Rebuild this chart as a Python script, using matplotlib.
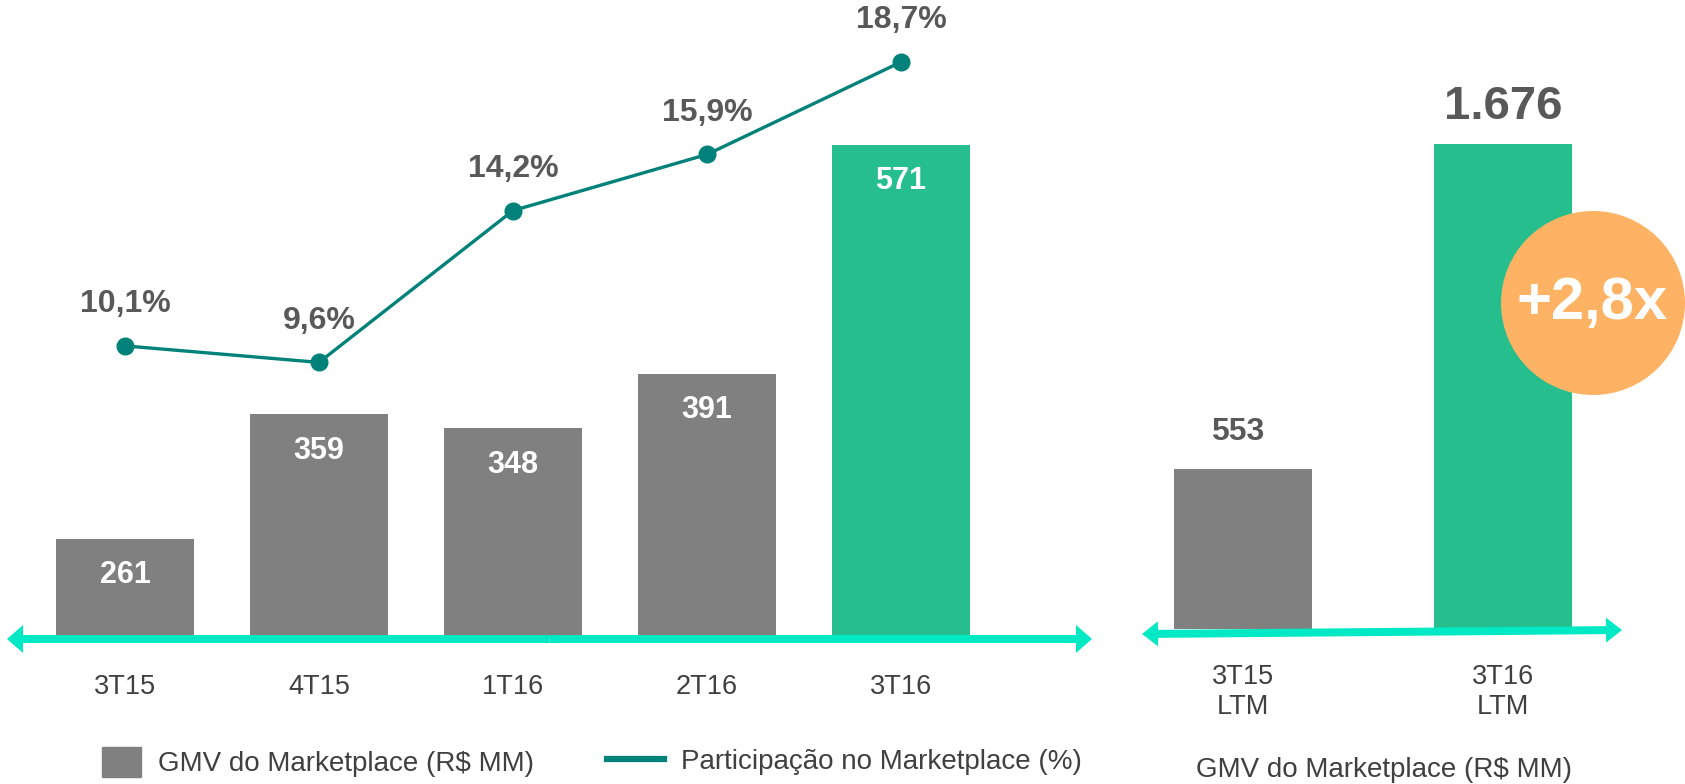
import matplotlib.pyplot as plt
from matplotlib.patches import Circle, Patch
from matplotlib.lines import Line2D

plt.rcParams['font.family'] = ['Liberation Sans', 'DejaVu Sans']

# quarterly data
quarters = ['3T15', '4T15', '1T16', '2T16', '3T16']
gmv = [261, 359, 348, 391, 571]
share = [10.1, 9.6, 14.2, 15.9, 18.7]
share_labels = ['10,1%', '9,6%', '14,2%', '15,9%', '18,7%']

# last twelve months
ltm_periods = ['3T15\nLTM', '3T16\nLTM']
ltm_gmv = [553, 1676]
ltm_labels = ['553', '1.676']
growth_label = '+2,8x'

GRAY = '#808080'
GREEN = '#26BE8C'
TEAL = '#00827A'
AQUA = '#00E8C4'
ORANGE = '#FEB264'
LBL = '#595959'
TXT = '#404040'

W, H = 1685, 784
fig = plt.figure(figsize=(W / 100, H / 100), dpi=100)


def px_rect(x0, y0, x1, y1):
    # pixel box (top-left origin) -> figure fraction rect
    return [x0 / W, 1 - y1 / H, (x1 - x0) / W, (y1 - y0) / H]


# ---- left panel: quarterly GMV + share line
ax = fig.add_axes(px_rect(28, 0, 998, 637))
x = list(range(len(quarters)))
colors = [GRAY] * 4 + [GREEN]
bars = ax.bar(x, gmv, width=0.71, color=colors)
ax.set_xlim(-0.5, 4.5)
ax.set_ylim(184, 685)
for b, v in zip(bars, gmv):
    ax.annotate(str(v), (b.get_x() + b.get_width() / 2, v), xytext=(0, -26),
                textcoords='offset points', ha='center', va='center',
                fontsize=22, fontweight='bold', color='white')
ax.set_xticks(x, quarters)
ax.tick_params(axis='x', length=0, pad=27, labelsize=19.5, labelcolor=TXT)
ax.set_yticks([])
for s in ax.spines.values():
    s.set_visible(False)
ax.patch.set_visible(False)

ax2 = ax.twinx()
line, = ax2.plot(x, share, color=TEAL, lw=2.4, marker='o', ms=12)
ax2.set_ylim(1.28, 20.58)
for xi, v, t in zip(x, share, share_labels):
    ax2.annotate(t, (xi, v), xytext=(0, 30), textcoords='offset points',
                 ha='center', va='center', fontsize=23, fontweight='bold',
                 color=LBL)
ax2.set_yticks([])
for s in ax2.spines.values():
    s.set_visible(False)

# ---- right panel: LTM GMV
axr = fig.add_axes(px_rect(1113, 0, 1633, 629))
xr = list(range(len(ltm_periods)))
axr.bar(xr, ltm_gmv, width=0.53, color=[GRAY, GREEN])
axr.set_xlim(-0.5, 1.5)
axr.set_ylim(0, 2174)
for xi, v, t, fs, dx in zip(xr, ltm_gmv, ltm_labels, [23, 34], [-4, 0]):
    axr.annotate(t, (xi, v), xytext=(dx, 27), textcoords='offset points',
                 ha='center', va='center', fontsize=fs, fontweight='bold',
                 color=LBL)
axr.set_xticks(xr, ltm_periods)
axr.tick_params(axis='x', length=0, pad=25, labelsize=19.5, labelcolor=TXT)
axr.set_yticks([])
for s in axr.spines.values():
    s.set_visible(False)
axr.patch.set_visible(False)

# ---- overlay: arrows, growth badge
ov = fig.add_axes([0, 0, 1, 1])
ov.set_xlim(0, W)
ov.set_ylim(H, 0)
ov.axis('off')


def double_arrow(x0, y0, x1, y1, hw=28):
    xm, ym = (x0 + x1) / 2, (y0 + y1) / 2
    for xe, ye in [(x0, y0), (x1, y1)]:
        ov.arrow(xm, ym, xe - xm, ye - ym, width=8, head_width=hw,
                 head_length=16, length_includes_head=True, color=AQUA, lw=0)


double_arrow(7, 639, 1092, 639)
double_arrow(1142, 634, 1622, 630, hw=25)

ov.add_patch(Circle((1593, 303), 92, color=ORANGE, lw=0))
ov.text(1592, 303, growth_label, ha='center', va='center', fontsize=43,
        fontweight='bold', color='white')

ov.text(1384, 770, 'GMV do Marketplace (R$ MM)', ha='center', va='center',
        fontsize=20, color=TXT)

# legends
fig.legend(handles=[Patch(color=GRAY)], labels=['GMV do Marketplace (R$ MM)'],
           loc='center left', bbox_to_anchor=(102 / W, 1 - 762 / H),
           frameon=False, borderpad=0, borderaxespad=0, fontsize=20,
           handlelength=1.4, handleheight=1.33, handletextpad=0.62,
           labelcolor=TXT)
fig.legend(handles=[Line2D([], [], color=TEAL, lw=4.5)],
           labels=['Participação no Marketplace (%)'],
           loc='center left', bbox_to_anchor=(607 / W, 1 - 762 / H),
           frameon=False, borderpad=0, borderaxespad=0, fontsize=20,
           handlelength=2.05, handletextpad=0.6, labelcolor=TXT)

fig.savefig('out.png', dpi=100)
